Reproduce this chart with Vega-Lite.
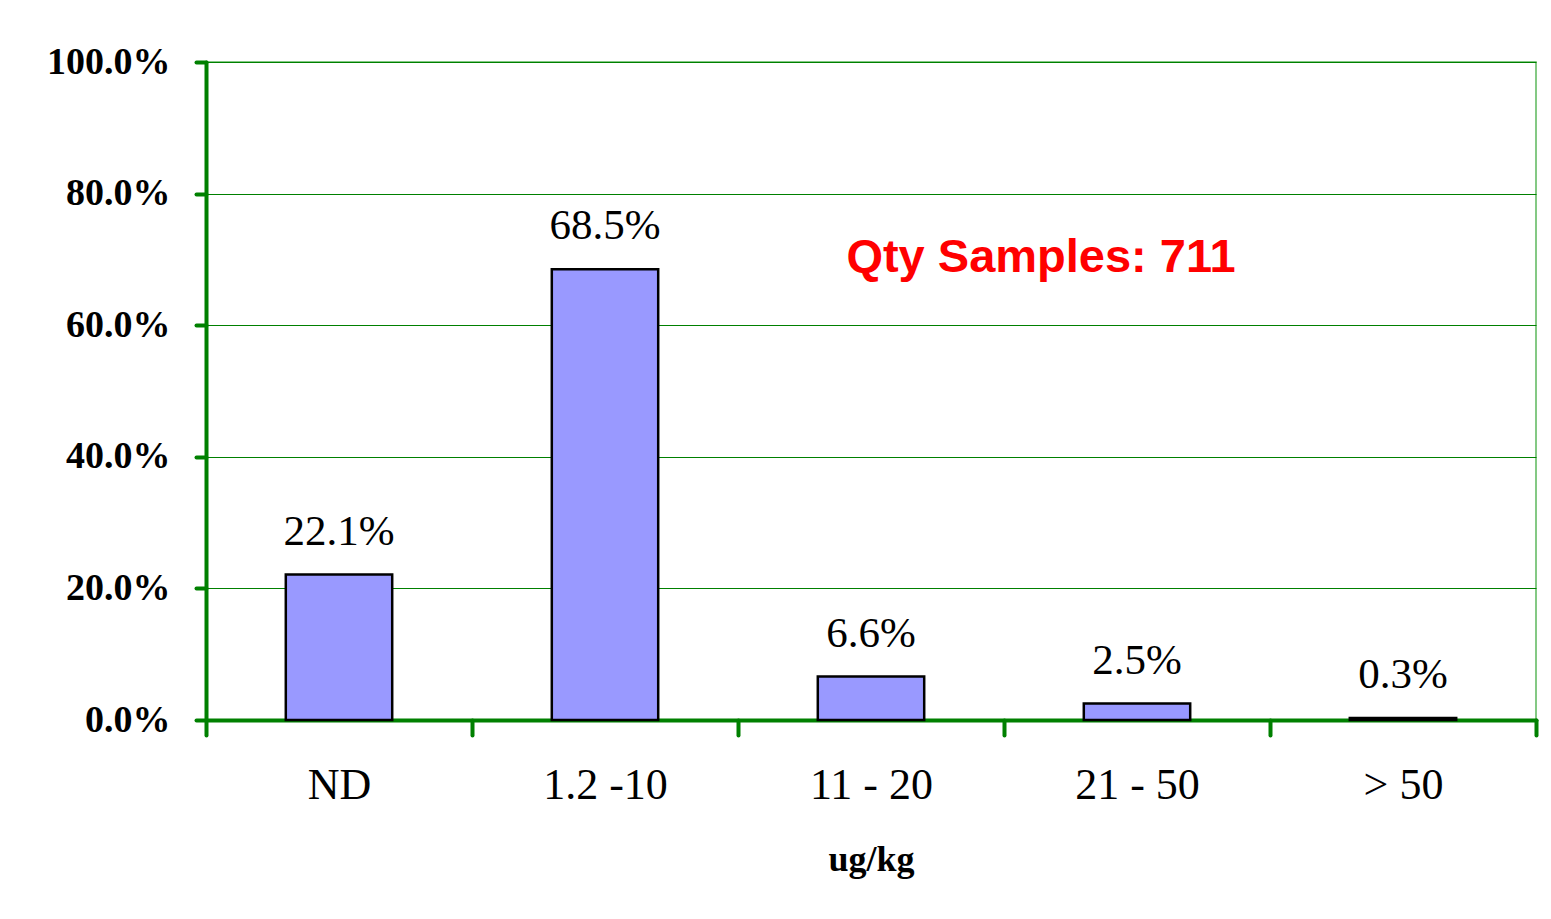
{
  "$schema": "https://vega.github.io/schema/vega-lite/v6.json",
  "autosize": {"type": "none"},
  "width": 1330,
  "height": 658,
  "padding": {"left": 206, "top": 62, "right": 15, "bottom": 199},
  "background": "white",
  "config": {
    "view": {"stroke": "#5cb85c", "strokeWidth": 1.5},
    "font": "Liberation Serif"
  },
  "data": {
    "values": [
      {"range": "ND", "pct": 0.221},
      {"range": "1.2 -10", "pct": 0.685},
      {"range": "11 - 20", "pct": 0.066},
      {"range": "21 - 50", "pct": 0.025},
      {"range": "> 50", "pct": 0.003}
    ]
  },
  "encoding": {
    "x": {
      "field": "range",
      "type": "nominal",
      "sort": null,
      "scale": {"paddingInner": 0, "paddingOuter": 0},
      "axis": {
        "title": "ug/kg",
        "titleFont": "Liberation Serif",
        "titleFontSize": 36,
        "titleFontWeight": "bold",
        "titlePadding": 35,
        "labelFont": "Liberation Serif",
        "labelFontSize": 44,
        "labelFontWeight": "normal",
        "labelColor": "black",
        "labelAngle": 0,
        "labelPadding": 28,
        "tickBand": "extent",
        "tickSize": 15,
        "tickWidth": 4,
        "tickColor": "#008000",
        "tickCap": "round",
        "domainColor": "#008000",
        "domainWidth": 4,
        "domainCap": "round",
        "grid": false
      }
    },
    "y": {
      "field": "pct",
      "type": "quantitative",
      "scale": {"domain": [0, 1]},
      "axis": {
        "title": null,
        "format": ".1%",
        "values": [0, 0.2, 0.4, 0.6, 0.8, 1],
        "labelFont": "Liberation Serif",
        "labelFontSize": 38,
        "labelFontWeight": "bold",
        "labelColor": "black",
        "labelPadding": 26,
        "tickSize": 10,
        "tickWidth": 4,
        "tickColor": "#008000",
        "tickCap": "round",
        "domainColor": "#008000",
        "domainWidth": 4,
        "domainCap": "round",
        "grid": true,
        "gridColor": "#008000",
        "gridWidth": 1
      }
    }
  },
  "layer": [
    {
      "mark": {"type": "bar", "width": {"band": 0.4}, "fill": "#9999FF", "stroke": "black", "strokeWidth": 2.5}
    },
    {
      "mark": {"type": "text", "font": "Liberation Serif", "fontSize": 43, "baseline": "alphabetic", "dy": -30, "color": "black"},
      "encoding": {"text": {"field": "pct", "type": "quantitative", "format": ".1%"}}
    },
    {
      "data": {"values": [{"range": "21 - 50", "pct": 0.702, "label": "Qty Samples: 711"}]},
      "mark": {"type": "text", "font": "Liberation Sans", "fontSize": 47, "fontWeight": "bold", "color": "#FF0000", "baseline": "middle", "dx": -96},
      "encoding": {"text": {"field": "label"}}
    }
  ]
}
